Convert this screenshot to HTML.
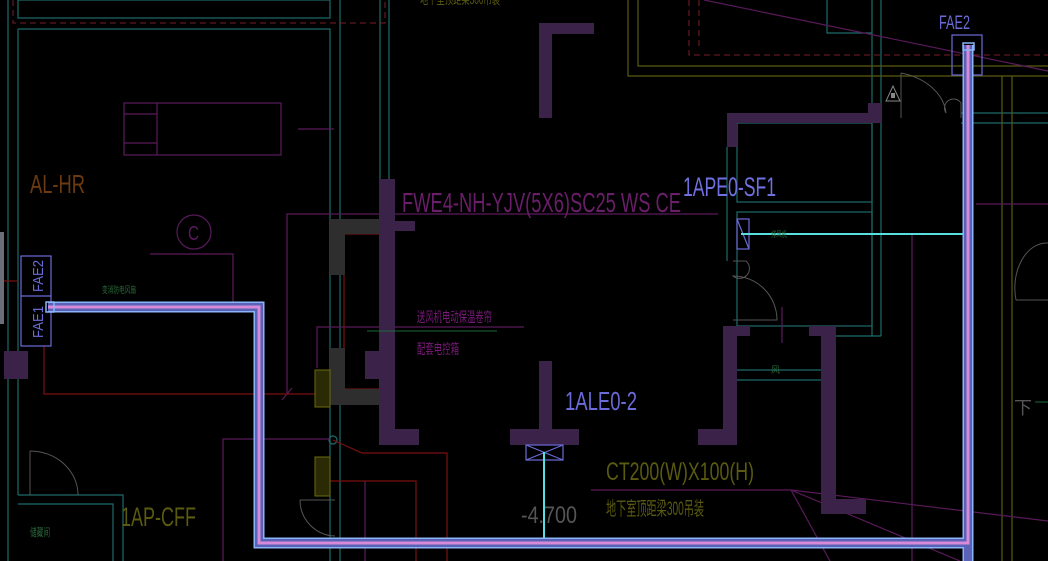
<!DOCTYPE html>
<html><head><meta charset="utf-8"><style>
html,body{margin:0;padding:0;background:#000;width:1048px;height:561px;overflow:hidden}
svg{display:block}
text{font-family:"Liberation Sans","Noto Sans CJK SC",sans-serif}
</style></head><body>
<svg width="1048" height="561" viewBox="0 0 1048 561" xmlns="http://www.w3.org/2000/svg">
<rect width="1048" height="561" fill="#000"/>
<rect x="0" y="232" width="4" height="92" fill="#6a6e78"/>
<g stroke="#1e6a6a" stroke-width="1.2" fill="none">
<line x1="8" y1="0" x2="8" y2="561"/>
<line x1="18" y1="29" x2="18" y2="495"/>
<rect x="18" y="0" width="312" height="18"/>
<polyline points="18,29 330,29 330,561"/>
<line x1="340" y1="0" x2="340" y2="561"/>
<line x1="380" y1="0" x2="380" y2="179"/>
<line x1="389" y1="0" x2="389" y2="179"/>
<polyline points="18,495 123,495 123,561"/>
<polyline points="18,504 113,504 113,561"/>
<polyline points="827,0 827,33 872,33"/>
<line x1="872" y1="0" x2="872" y2="336"/>
<line x1="881" y1="0" x2="881" y2="336"/>
<line x1="836" y1="336" x2="881" y2="336"/>
<line x1="727" y1="147" x2="727" y2="261"/>
<rect x="737" y="123" width="135" height="79"/>
<rect x="737" y="212" width="135" height="114"/>
<line x1="737" y1="370" x2="821" y2="370"/>
<line x1="737" y1="380" x2="821" y2="380"/>
<line x1="961" y1="113" x2="1048" y2="113"/>
<line x1="961" y1="123" x2="1048" y2="123"/>
<circle cx="333" cy="440" r="4"/>
</g>
<g stroke="#7a1e2a" stroke-width="1" fill="none" stroke-dasharray="6,4">
<polyline points="13,0 13,23 385,23 385,0"/>
<polyline points="689,0 689,55 1048,55"/>
<line x1="699" y1="0" x2="699" y2="48"/>
</g>
<g stroke="#5a5a10" stroke-width="1.2" fill="none">
<polyline points="628,0 628,76 1048,76"/>
<polyline points="638,0 638,66 1048,66"/>
<line x1="1002" y1="76" x2="1002" y2="561"/>
<line x1="1012" y1="76" x2="1012" y2="561"/>
</g>
<g stroke="#5a1a5a" stroke-width="1.2" fill="none">
<rect x="124" y="103" width="157" height="52"/>
<line x1="157" y1="103" x2="157" y2="155"/>
<line x1="124" y1="114" x2="157" y2="114"/>
<line x1="124" y1="143" x2="157" y2="143"/>
<line x1="298" y1="129" x2="334" y2="129"/>
<circle cx="194" cy="232" r="17"/>
<polyline points="150,254 233,254 233,302"/>
<polyline points="380,214 287,214 287,393"/>
<line x1="282" y1="400" x2="292" y2="388"/>
<line x1="390" y1="214" x2="718" y2="214"/>
<polyline points="524,327 317,327 317,368"/>
<polyline points="223,561 223,439 330,439"/>
<line x1="365" y1="481" x2="365" y2="561"/>
<line x1="704" y1="0" x2="1048" y2="71"/>
<line x1="912" y1="234" x2="912" y2="561"/>
<line x1="976" y1="204" x2="1048" y2="204"/>
<line x1="782" y1="307" x2="782" y2="343"/>
<line x1="591" y1="490" x2="791" y2="490"/>
<line x1="791" y1="490" x2="1048" y2="521"/>
<line x1="791" y1="490" x2="830" y2="561"/>
<line x1="791" y1="490" x2="960" y2="561"/>
</g>
<g stroke="#7a1010" stroke-width="1.2" fill="none">
<polyline points="44,346 44,394 315,394"/>
<line x1="4" y1="281" x2="18" y2="281"/>
<rect x="344" y="234" width="36" height="155"/>
<polyline points="333,440 362,453 447,453 447,561"/>
<polyline points="330,481 416,481 416,561"/>
</g>
<g fill="#2e2e2e">
<rect x="330" y="219" width="50" height="15"/>
<rect x="330" y="219" width="15" height="56"/>
<rect x="330" y="348" width="15" height="57"/>
<rect x="330" y="389" width="50" height="16"/>
</g>
<g fill="#3a2248">
<rect x="4" y="351" width="24" height="28"/>
<rect x="379" y="179" width="16" height="266"/>
<rect x="395" y="221" width="20" height="10"/>
<rect x="395" y="429" width="24" height="16"/>
<rect x="365" y="351" width="14" height="28"/>
<rect x="539" y="23" width="55" height="11"/>
<rect x="539" y="23" width="13" height="95"/>
<rect x="727" y="113" width="154" height="10"/>
<rect x="727" y="113" width="10" height="34"/>
<rect x="868" y="103" width="13" height="20"/>
<rect x="723" y="326" width="14" height="119"/>
<rect x="698" y="429" width="39" height="16"/>
<rect x="737" y="326" width="13" height="10"/>
<rect x="821" y="326" width="15" height="188"/>
<rect x="809" y="326" width="12" height="10"/>
<rect x="836" y="499" width="30" height="15"/>
<rect x="539" y="361" width="13" height="70"/>
<rect x="510" y="429" width="69" height="16"/>
</g>
<g stroke="#6a6a10" fill="#2a2a05">
<rect x="315" y="370" width="15" height="37"/>
<rect x="315" y="457" width="15" height="39"/>
</g>
<g stroke="#555" stroke-width="1" fill="none">
<line x1="30" y1="451" x2="30" y2="495"/>
<path d="M30,451 A48,44 0 0 1 78,495"/>
<path d="M300,500 A36,36 0 0 0 335,536"/>
<line x1="300" y1="500" x2="335" y2="500"/>
<path d="M733,261 L746,261 A6,6 0 0 1 733,276 A44,44 0 0 1 777,320 L733,320"/>
<path d="M901,73 L901,118 M901,73 A60,45 0 0 1 946,113 A6,6 0 0 1 961,103 L961,118"/>
<path d="M1016,300 A32,45 0 0 1 1048,243 M1016,300 L1048,300"/>
</g>
<polygon points="893,86 886,101 900,101" fill="none" stroke="#888"/>
<rect x="891" y="93" width="4" height="5" fill="#888"/>
<line x1="367" y1="331" x2="497" y2="331" stroke="#1a6a3a" stroke-width="1"/>
<line x1="1035" y1="402" x2="1048" y2="402" stroke="#1a6a3a"/>
<g stroke="#6a6ad8" stroke-width="1.2" fill="none">
<rect x="21" y="256" width="30" height="90"/>
<line x1="21" y1="296" x2="51" y2="296"/>
<rect x="952" y="35" width="30" height="40"/>
<rect x="737" y="219" width="12" height="30"/>
<line x1="737" y1="219" x2="749" y2="249"/>
<rect x="526" y="445" width="37" height="15"/>
<line x1="526" y1="445" x2="563" y2="460"/>
<line x1="526" y1="460" x2="563" y2="445"/>
</g>
<g stroke="#58e0e0" stroke-width="2">
<line x1="741" y1="234" x2="966" y2="234"/>
<line x1="544" y1="452" x2="544" y2="539"/>
</g>
<g fill="none" stroke-linejoin="miter">
<polyline points="48,307 259,307 259,543 968,543 968,45" stroke="#8ab4f8" stroke-width="11"/>
<line x1="968" y1="540" x2="968" y2="561" stroke="#8ab4f8" stroke-width="11"/>
<polyline points="48,307 259,307 259,543 968,543 968,45" stroke="#5a62b8" stroke-width="8"/>
<line x1="968" y1="540" x2="968" y2="561" stroke="#5a62b8" stroke-width="8"/>
<polyline points="48,307 259,307 259,543 968,543 968,45" stroke="#d68ad8" stroke-width="3"/>
</g>
<rect x="46" y="302" width="8" height="10" fill="none" stroke="#8ab4f8" stroke-width="1.5"/>
<rect x="963" y="43" width="11" height="7" fill="none" stroke="#8ab4f8" stroke-width="1.5"/>
<text x="30" y="193" font-size="26" fill="#6b3a10" textLength="55" lengthAdjust="spacingAndGlyphs">AL-HR</text>
<text x="188" y="240" font-size="20" fill="#5a1a5a" textLength="11" lengthAdjust="spacingAndGlyphs">C</text>
<text transform="translate(43,292) rotate(-90)" font-size="15" fill="#6a6ad8" textLength="32" lengthAdjust="spacingAndGlyphs">FAE2</text>
<text transform="translate(43,338) rotate(-90)" font-size="15" fill="#6a6ad8" textLength="32" lengthAdjust="spacingAndGlyphs">FAE1</text>
<text x="102" y="293" font-size="9" fill="#2a6a3a" textLength="34" lengthAdjust="spacingAndGlyphs">变消防电风扇</text>
<text x="402" y="212" font-size="28" fill="#6a1e6a" textLength="279" lengthAdjust="spacingAndGlyphs">FWE4-NH-YJV(5X6)SC25 WS CE</text>
<text x="417" y="322" font-size="14" fill="#7a1a7a" textLength="75" lengthAdjust="spacingAndGlyphs">送风机电动保温卷帘</text>
<text x="417" y="354" font-size="14" fill="#7a1a7a" textLength="42" lengthAdjust="spacingAndGlyphs">配套电控箱</text>
<text x="121" y="526" font-size="27" fill="#5a5a10" textLength="75" lengthAdjust="spacingAndGlyphs">1AP-CFF</text>
<text x="30" y="536" font-size="11" fill="#2a6a3a" textLength="20" lengthAdjust="spacingAndGlyphs">储藏间</text>
<text x="683" y="196" font-size="27" fill="#7070e0" textLength="93" lengthAdjust="spacingAndGlyphs">1APE0-SF1</text>
<text x="771" y="237" font-size="8" fill="#2a6a3a" textLength="16" lengthAdjust="spacingAndGlyphs">排风机</text>
<text x="771" y="373" font-size="9" fill="#2a6a3a">风</text>
<text x="565" y="410" font-size="26" fill="#6a6ad8" textLength="72" lengthAdjust="spacingAndGlyphs">1ALE0-2</text>
<text x="606" y="480" font-size="25" fill="#5a5a10" textLength="148" lengthAdjust="spacingAndGlyphs">CT200(W)X100(H)</text>
<text x="606" y="515" font-size="19" fill="#5a5a10" textLength="98" lengthAdjust="spacingAndGlyphs">地下室顶距梁300吊装</text>
<text x="521" y="523" font-size="24" fill="#555" textLength="56" lengthAdjust="spacingAndGlyphs">-4.700</text>
<text x="939" y="29" font-size="19" fill="#6a6ad8" textLength="31" lengthAdjust="spacingAndGlyphs">FAE2</text>
<text x="1014" y="414" font-size="18" fill="#555">下</text>
<text x="420" y="4" font-size="14" fill="#5a5a10" textLength="80" lengthAdjust="spacingAndGlyphs">地下室顶距梁300吊装</text>
</svg>
</body></html>
